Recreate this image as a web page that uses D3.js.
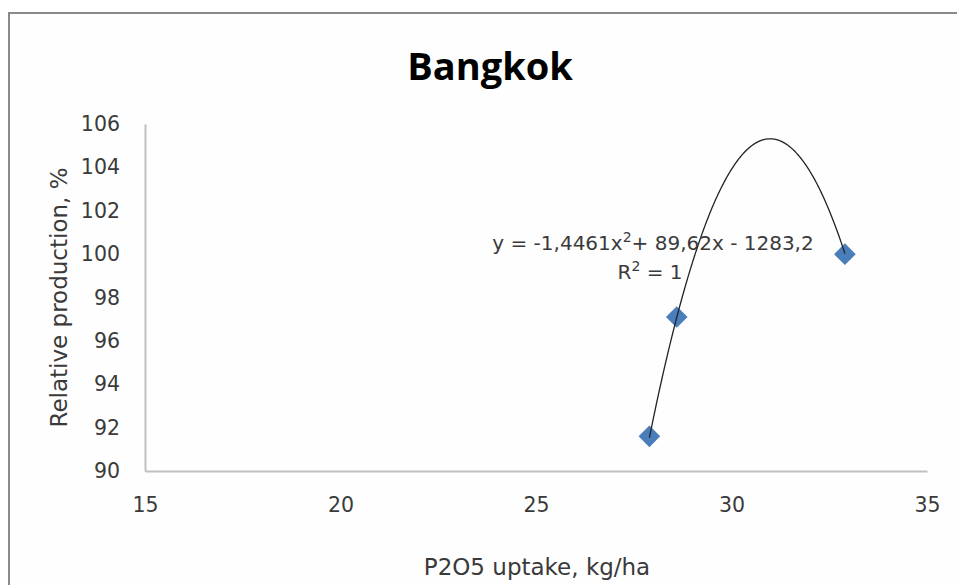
<!DOCTYPE html>
<html>
<head>
<meta charset="utf-8">
<script src="https://cdn.jsdelivr.net/npm/d3@7"></script>
<style>
  html, body { margin: 0; padding: 0; background: #ffffff; }
  svg { display: block; }
</style>
</head>
<body>
<svg id="chart" width="957" height="585"></svg>
<script>
// Observed data: P2O5 uptake (kg/ha) vs relative production (%)
const uptake = [27.9, 28.6, 32.9];
const production = [91.6, 97.1, 100.0];

// Axis ticks
const xTicks = [15, 20, 25, 30, 35];
const yTicks = [90, 92, 94, 96, 98, 100, 102, 104, 106];

// Polynomial trendline (order 2): y = a*x^2 + b*x + c
const trendCoef = { a: -1.4461, b: 89.62, c: -1283.2 };

const svg = d3.select("#chart");
const W = 957, H = 585;

// Chart frame
svg.append("rect")
  .attr("x", 9).attr("y", 13)
  .attr("width", W + 20).attr("height", H + 20)
  .attr("fill", "#fefefe")
  .attr("stroke", "#8a8a8a")
  .attr("stroke-width", 2);

const plot = { left: 145, right: 927, top: 124, bottom: 471 };

const x = d3.scaleLinear().domain([15, 35]).range([plot.left, plot.right]);
const y = d3.scaleLinear().domain([90, 106]).range([plot.bottom, plot.top]);

const bodyFont = "'DejaVu Sans', Verdana, sans-serif";

// Title
svg.append("text")
  .attr("x", 490).attr("y", 80)
  .attr("text-anchor", "middle")
  .attr("font-family", "'Open Sans', 'DejaVu Sans', sans-serif")
  .attr("font-weight", "bold")
  .attr("font-size", 38)
  .attr("fill", "#000")
  .text("Bangkok");

// Axes
const xAxis = svg.append("g")
  .attr("transform", `translate(0,${plot.bottom})`)
  .call(d3.axisBottom(x).tickValues(xTicks).tickSize(0).tickSizeOuter(0).tickPadding(26).tickFormat(d3.format("d")));

const yAxis = svg.append("g")
  .attr("transform", `translate(${plot.left},0)`)
  .call(d3.axisLeft(y).tickValues(yTicks).tickSize(0).tickSizeOuter(0).tickPadding(25).tickFormat(d3.format("d")));

[xAxis, yAxis].forEach(g => {
  g.select(".domain").attr("stroke", "#c0c0c0").attr("stroke-width", 2);
  g.selectAll("text")
    .attr("font-family", bodyFont)
    .attr("font-size", 20.5)
    .attr("fill", "#3a3a3a");
});

// Axis titles
svg.append("text")
  .attr("x", 537).attr("y", 575)
  .attr("text-anchor", "middle")
  .attr("font-family", bodyFont)
  .attr("font-size", 23)
  .attr("fill", "#3a3a3a")
  .text("P2O5 uptake, kg/ha");

svg.append("text")
  .attr("transform", `translate(67,${(plot.top + plot.bottom) / 2}) rotate(-90)`)
  .attr("text-anchor", "middle")
  .attr("font-family", bodyFont)
  .attr("font-size", 23)
  .attr("fill", "#3a3a3a")
  .text("Relative production, %");

// Markers
const pts = uptake.map((u, i) => [u, production[i]]);
svg.append("g").selectAll("path")
  .data(pts)
  .join("path")
  .attr("d", d3.symbol().type(d3.symbolSquare).size(235))
  .attr("transform", d => `translate(${x(d[0])},${y(d[1])}) rotate(45)`)
  .attr("fill", "#4a7ebb");

// Trendline across the observed range
const trend = v => trendCoef.a * v * v + trendCoef.b * v + trendCoef.c;
const xs = d3.range(0, 201).map(i => d3.min(uptake) + (d3.max(uptake) - d3.min(uptake)) * i / 200);
svg.append("path")
  .datum(xs)
  .attr("fill", "none")
  .attr("stroke", "#222")
  .attr("stroke-width", 1.3)
  .attr("d", d3.line().x(v => x(v)).y(v => y(trend(v))));

// Trendline equation and R²
const eq = svg.append("text")
  .attr("x", 653).attr("y", 250)
  .attr("text-anchor", "middle")
  .attr("font-family", bodyFont)
  .attr("font-size", 20)
  .attr("fill", "#3a3a3a");
eq.append("tspan").text("y = -1,4461x");
eq.append("tspan").attr("dy", -8).attr("font-size", 14).text("2");
eq.append("tspan").attr("dy", 8).text("+ 89,62x - 1283,2");

const r2 = svg.append("text")
  .attr("x", 650).attr("y", 279)
  .attr("text-anchor", "middle")
  .attr("font-family", bodyFont)
  .attr("font-size", 20)
  .attr("fill", "#3a3a3a");
r2.append("tspan").text("R");
r2.append("tspan").attr("dy", -8).attr("font-size", 14).text("2");
r2.append("tspan").attr("dy", 8).text(" = 1");
</script>
</body>
</html>
